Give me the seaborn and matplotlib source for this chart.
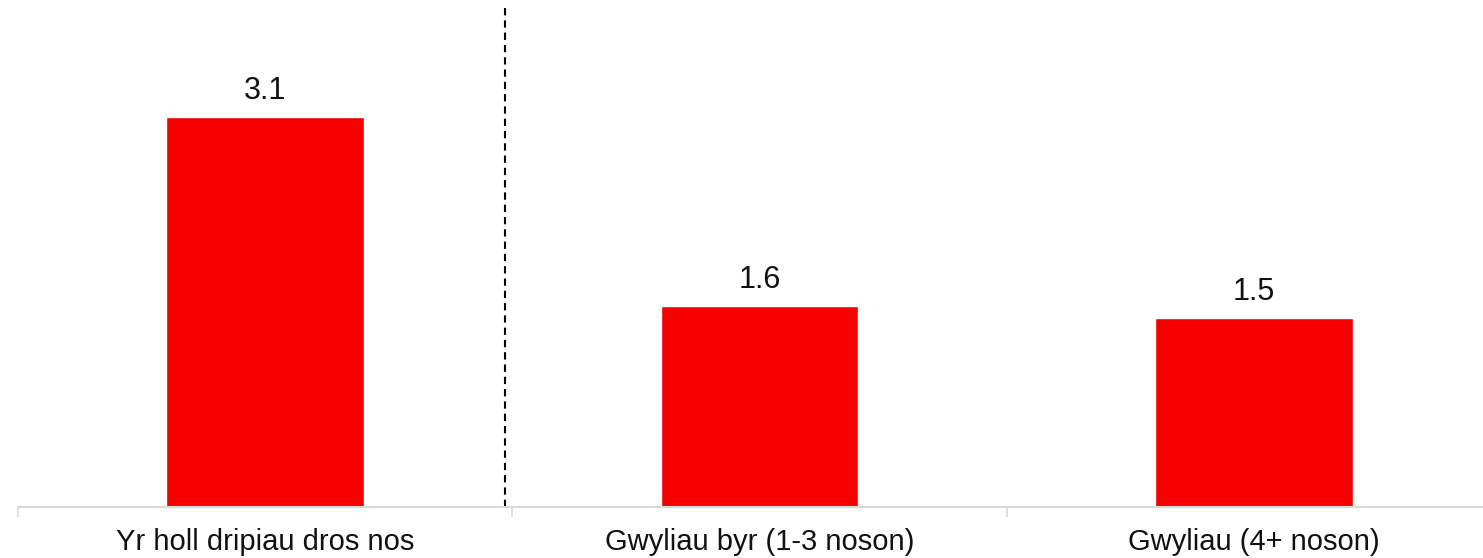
import pandas as pd
import matplotlib.pyplot as plt
import seaborn as sns

# Data
categories = ["Yr holl dripiau dros nos", "Gwyliau byr (1-3 noson)", "Gwyliau (4+ noson)"]
values = [3.1, 1.6, 1.5]
value_labels = ["3.1", "1.6", "1.5"]

df = pd.DataFrame({"Category": categories, "Value": values})

sns.set_style("white")
plt.rcParams['font.family'] = ['Liberation Sans', 'DejaVu Sans']

fig = plt.figure(figsize=(14.83, 5.58), dpi=100)
ax = fig.add_axes([18 / 1483, 51 / 558, 1483 / 1483, 507 / 558])

sns.barplot(data=df, x="Category", y="Value", color="#F60000", width=0.4,
            saturation=1, ax=ax)

# value labels above bars
for i, v in enumerate(values):
    ax.annotate(value_labels[i], (i, v), xytext=(0, 8), textcoords="offset points",
                ha="center", va="bottom", fontsize=22, color="#111111")

# dashed divider between overall trips and the holiday breakdown
ax.axvline(0.486, ymax=0.985, color="black", linestyle=(0, (3.5, 2.4)), linewidth=1.5)

ax.set_xlim(-0.5, 2.5)
ax.set_ylim(0, 4.03)
ax.set_xlabel("")
ax.set_ylabel("")
ax.set_yticks([])

for s in ["top", "right", "left"]:
    ax.spines[s].set_visible(False)
ax.spines["bottom"].set_color("#d9d9d9")
ax.spines["bottom"].set_linewidth(1.5)

ax.set_xticks([-0.5, 0.5, 1.5, 2.5], minor=True)
ax.tick_params(axis="x", which="minor", bottom=True, length=7, width=1.2,
               color="#d9d9d9", direction="out")
ax.tick_params(axis="x", which="major", bottom=True, length=0, pad=15,
               labelsize=21, labelcolor="#111111")

plt.savefig("out.png", dpi=100)
